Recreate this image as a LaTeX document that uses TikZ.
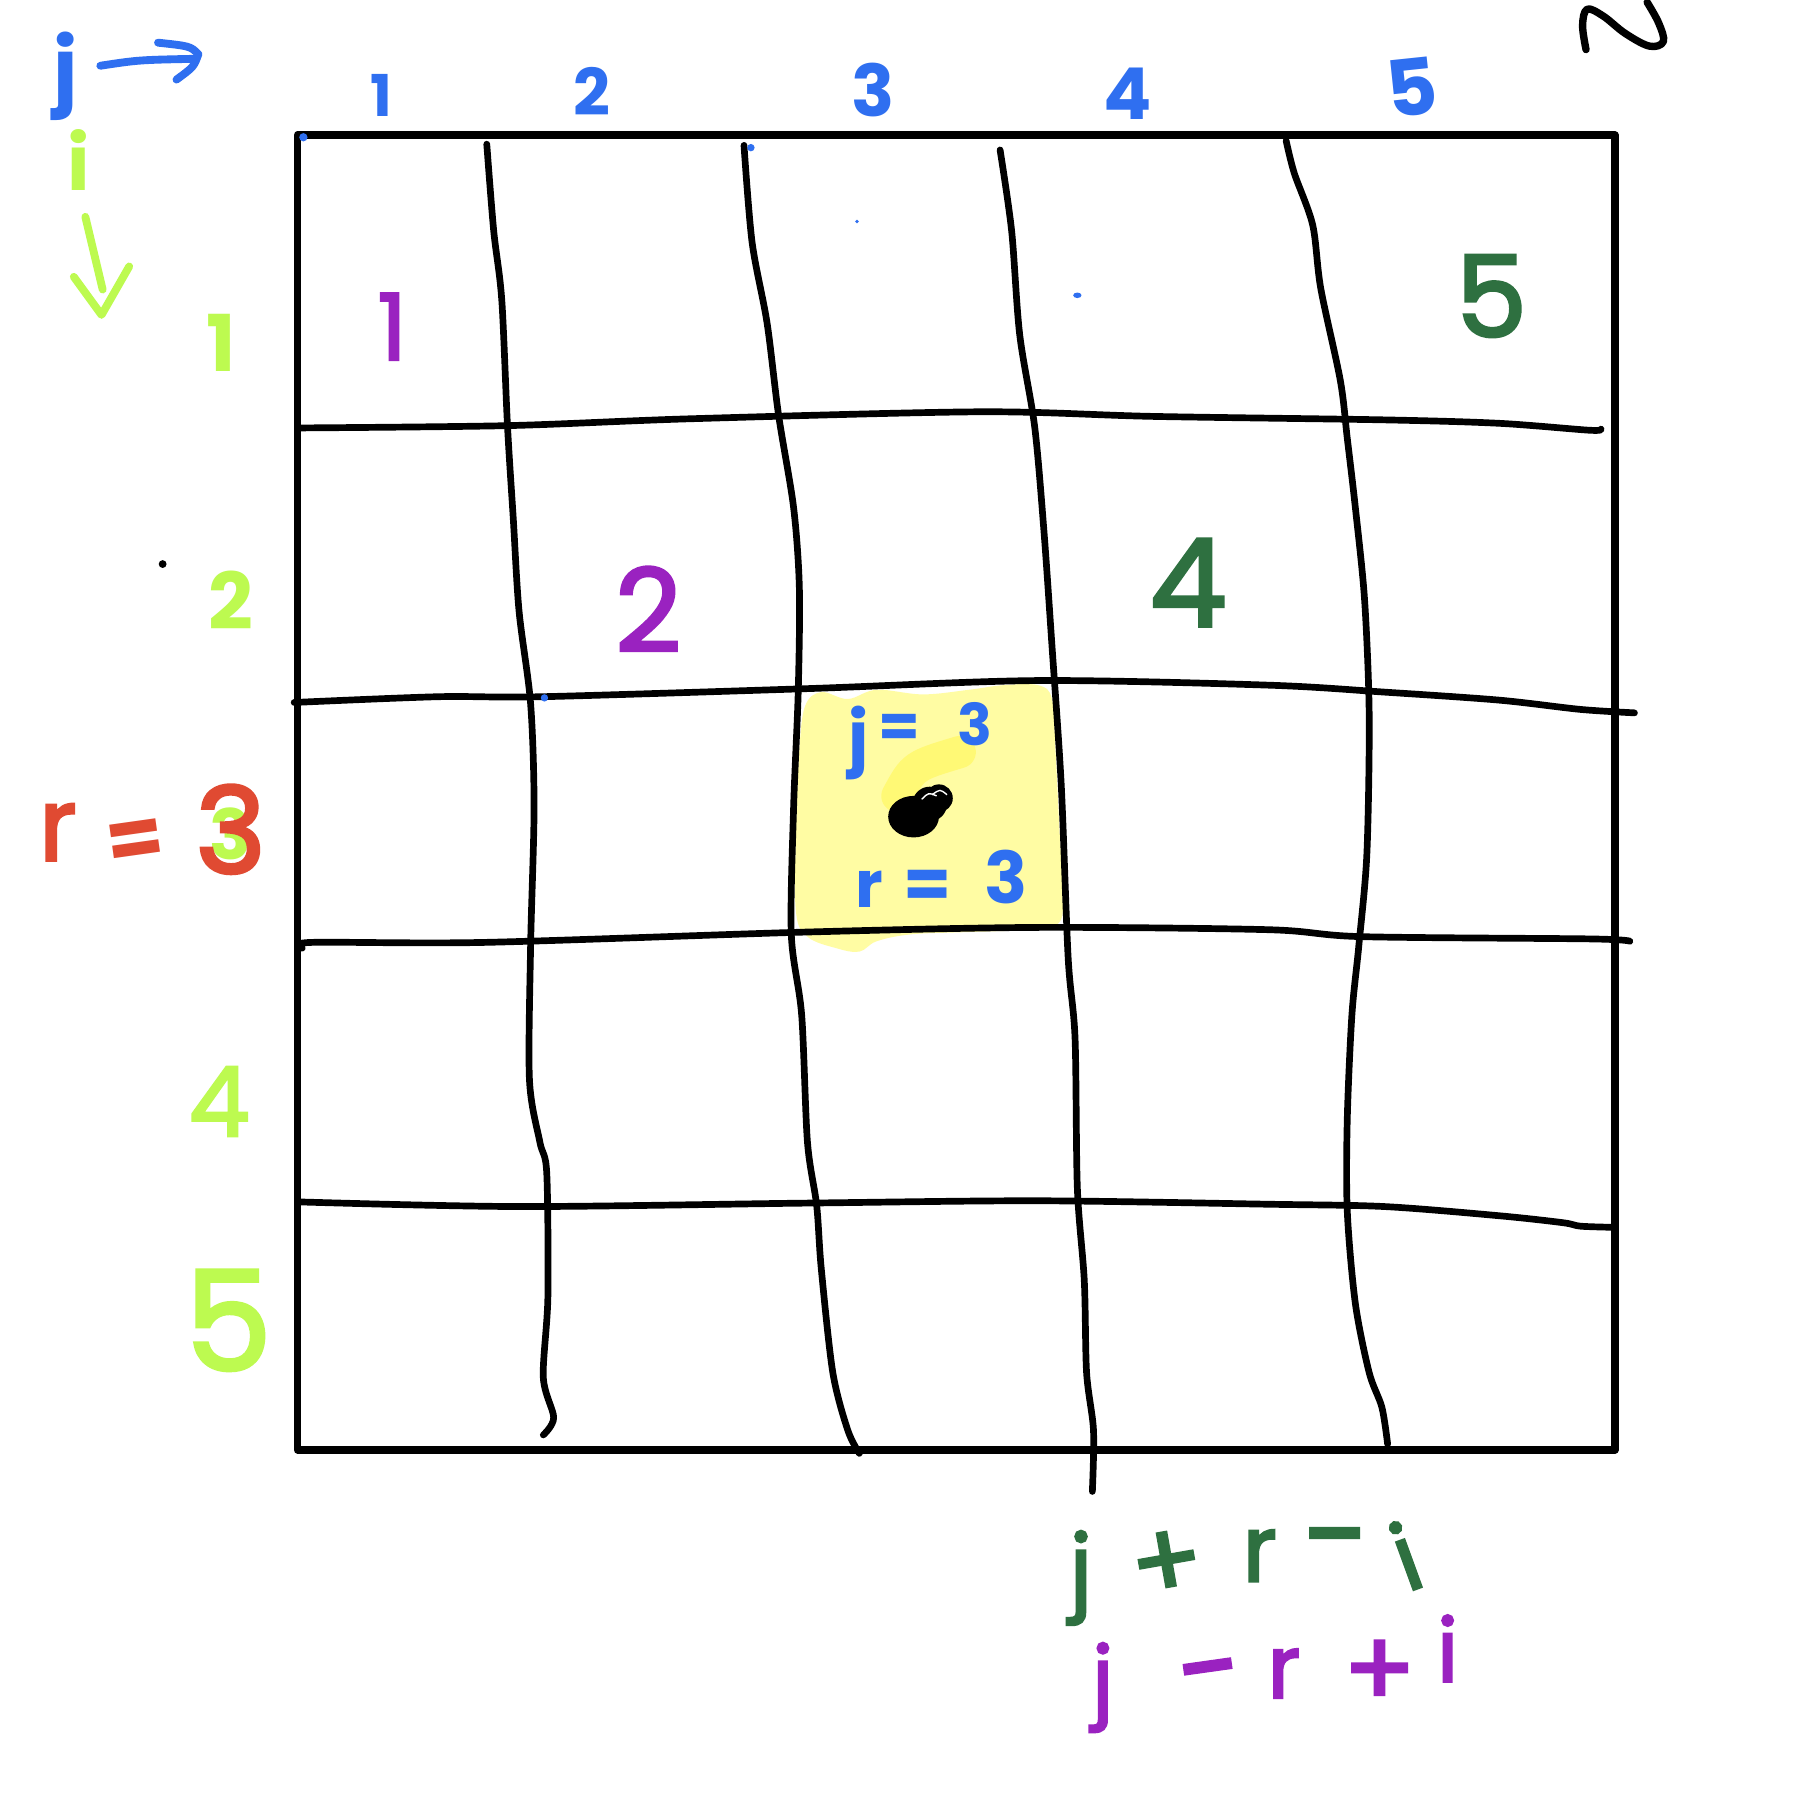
\documentclass[tikz,border=0pt]{standalone}
\usepackage{fontspec}
\setmainfont{Poppins}
\newfontfamily\penmed{Poppins}[FakeBold=2.5]
\definecolor{penblue}{HTML}{2F6FF0}
\definecolor{penlime}{HTML}{BDFA50}
\definecolor{penred}{HTML}{E04A32}
\definecolor{penpurple}{HTML}{9A22C0}
\definecolor{pengreen}{HTML}{2E7040}
\definecolor{hlyellow}{HTML}{FFFCA3}
\definecolor{hlbright}{HTML}{FFF975}
\newcommand{\penfont}[1]{\penmed\fontsize{#1}{#1}\selectfont}
\newcommand{\penfontb}[1]{\fontsize{#1}{#1}\selectfont\bfseries}
\begin{document}
\begin{tikzpicture}[x=0.5pt,y=-0.5pt,
  gridline/.style={line width=2.9pt,line cap=round,line join=round},
  penline/.style={line width=3.4pt,line cap=round,line join=round},
  lbl/.style={inner sep=0pt,anchor=base},
  sym/.style={inner sep=0pt,anchor=center}]
\useasboundingbox (0,0) rectangle (1564,1568.3);
\fill[white] (0,0) rectangle (1564,1568.3);

% highlight
\fill[hlyellow] plot[smooth cycle, tension=0.6] coordinates {(698,612) (712,600) (735,606) (760,598) (800,602) (840,598) (870,594) (900,594) (912,606) (915,650) (918,710) (921,770) (918,800) (890,806) (840,808) (790,810) (760,816) (745,825) (725,822) (700,812) (690,790) (690,720) (693,650)};
\draw[hlbright, line width=14pt, line cap=round] (778,690) .. controls (792,664) .. (832,652);

% outer box
\draw[line width=3.2pt, line join=round] (258,117) rectangle (1400,1257);

% vertical lines
\draw[gridline] plot[smooth,tension=0.5] coordinates {(422,125) (428,200) (435,260) (440,370) (445,450) (450,530) (460,610) (463,700) (460,820) (459,936) (468,990) (474,1017) (475,1124) (471,1194) (480,1229) (471,1244)};
\draw[gridline] plot[smooth,tension=0.5] coordinates {(645,126) (652,210) (665,280) (675,360) (688,440) (693,510) (692,600) (688,700) (686,810) (695,880) (700,990) (708,1045) (712,1100) (722,1190) (735,1240) (745,1260)};
\draw[gridline] plot[smooth,tension=0.5] coordinates {(867,130) (877,200) (884,290) (897,370) (905,460) (912,560) (920,680) (926,830) (932,900) (934,1030) (940,1110) (942,1190) (948,1240) (947,1293)};
\draw[gridline] plot[smooth,tension=0.5] coordinates {(1115,122) (1122,150) (1138,195) (1145,250) (1162,330) (1168,380) (1175,440) (1183,520) (1187,620) (1185,740) (1178,820) (1172,880) (1168,970) (1168,1050) (1175,1130) (1187,1190) (1198,1220) (1203,1252)};

% horizontal lines
\draw[gridline] plot[smooth,tension=0.5] coordinates {(260,371) (440,369) (600,363) (850,357) (1000,361) (1200,364) (1300,367) (1378,373) (1388,372)};
\draw[gridline] plot[smooth,tension=0.5] coordinates {(255,609) (380,604) (470,604) (700,597) (900,590) (1100,594) (1200,600) (1300,607) (1370,615) (1417,618)};
\draw[gridline] plot[smooth,tension=0.5] coordinates {(262,822) (270,817) (420,817) (700,808) (900,804) (1100,806) (1180,812) (1380,814) (1413,816)};
\draw[gridline] plot[smooth,tension=0.5] coordinates {(260,1042) (450,1046) (700,1043) (900,1041) (1100,1044) (1200,1046) (1300,1054) (1355,1060) (1370,1063) (1398,1064)};

% black blob
\fill (792,708) ellipse [x radius=11pt, y radius=9pt];
\fill (806,697) circle (7.5pt);
\fill (814,692) circle (6pt);
\draw[white, line width=0.6pt] (799,693) .. controls (805,687) .. (812,690);
\draw[white, line width=0.6pt] (808,689) .. controls (815,684) .. (821,689);

% top-right squiggle
\draw[line width=3.2pt,line cap=round,line join=round] plot[smooth,tension=0.6] coordinates {(1375,43) (1372,22) (1376,8) (1390,14) (1409,29) (1430,40) (1442,36) (1438,20) (1428,2)};

% dots
\fill[penblue] (263,119) circle (1.8pt);
\fill[penblue] (651,128) circle (1.6pt);
\fill[penblue] (743,192) circle (0.8pt);
\fill[penblue] (934,256) ellipse [x radius=1.8pt, y radius=1.2pt];
\fill[penblue] (472,605) circle (1.6pt);
\fill (141,489) circle (1.7pt);

% axis arrows
\draw[penblue, penline] (87,57) .. controls (120,52) .. (168,51);
\draw[penblue, penline] (137,37) .. controls (165,40) .. (172,47) .. controls (168,58) .. (153,69);
\draw[penlime, penline] (74,188) -- (89,251);
\draw[penlime, penline] (64,240) -- (88,273) -- (112,231);

% axis letters
\node[lbl, text=penblue, font=\penfontb{36}] (jlab) at (57,85) {j};
\node[lbl, text=penlime, font=\penfontb{33}] (ilab) at (68,165) {i};

% column labels
\node[lbl, text=penblue, font=\penfontb{25}] (c1) at (331,101) {1};
\node[lbl, text=penblue, font=\penfontb{28}] (c2) at (513,100) {2};
\node[lbl, text=penblue, font=\penfontb{31}] (c3) at (757,101) {3};
\node[lbl, text=penblue, font=\penfontb{31}] (c4) at (978,104) {4};
\node[lbl, text=penblue, font=\penfontb{34}, rotate=6] (c5) at (1227,100) {5};

% row labels
\node[lbl, text=penlime, font=\penfontb{34}] (r1) at (192,322) {1};
\node[lbl, text=penlime, font=\penfontb{34}] (r2) at (200,546) {2};
\node[lbl, text=penlime, font=\penfontb{30}] (r3) at (200,745) {3};
\node[lbl, text=penlime, font=\penfont{42}] (r4) at (190,985) {4};
\node[lbl, text=penlime, font=\penfont{60}] (r5) at (198,1188) {5};

% red r = 3
\node[lbl, text=penred, font=\penfont{44}] (rr) at (50,746) {r};
\node[sym, text=penred, font=\penfontb{36}, rotate=8] (req) at (118,732) {=};
\node[lbl, text=penred, font=\penfont{52}] (rthree) at (200,757) {3};

% cell numbers
\node[lbl, text=penpurple, font=\penfont{40}] (pu1) at (340,312) {1};
\node[lbl, text=penpurple, font=\penfont{50}] (pu2) at (562,565) {2};
\node[lbl, text=pengreen, font=\penfont{49}] (gr5) at (1293,292) {5};
\node[lbl, text=pengreen, font=\penfont{53}] (gr4) at (1030,543) {4};

% highlighted cell text
\node[lbl, text=penblue, font=\penfontb{30}] (hj) at (744,660) {j};
\node[sym, text=penblue, font=\penfontb{26}] (heq) at (780,634) {=};
\node[lbl, text=penblue, font=\penfontb{25}] (hthree) at (845,646) {3};
\node[lbl, text=penblue, font=\penfontb{28}] (hr) at (754,787) {r};
\node[sym, text=penblue, font=\penfontb{30}] (heqb) at (804,771) {=};
\node[lbl, text=penblue, font=\penfontb{31}] (hthreeb) at (872,783) {3};

% bottom formulas
\node[lbl, text=pengreen, font=\penfont{40}] (gj) at (937,1388) {j};
\node[sym, text=pengreen, font=\penfont{46}, rotate=10] (gplus) at (1012,1357) {+};
\node[lbl, text=pengreen, font=\penfont{40}] (gr) at (1092,1371) {r};
\node[sym, text=pengreen, font=\penfont{52}] (gminus) at (1157,1346) {−};
\node[lbl, text=pengreen, font=\penfont{40}, rotate=20] (gi) at (1229,1377) {i};

\node[lbl, text=penpurple, font=\penfont{38}] (pj) at (956,1482) {j};
\node[sym, text=penpurple, font=\penfont{50}, rotate=8] (pminus) at (1052,1481) {\raisebox{0pt}[0pt][0pt]{−}};
\node[lbl, text=penpurple, font=\penfont{38}] (pr) at (1113,1472) {r};
\node[sym, text=penpurple, font=\penfont{46}] (pplus) at (1196,1451) {+};
\node[lbl, text=penpurple, font=\penfont{38}] (pi) at (1255,1458) {i};
\end{tikzpicture}
\end{document}
